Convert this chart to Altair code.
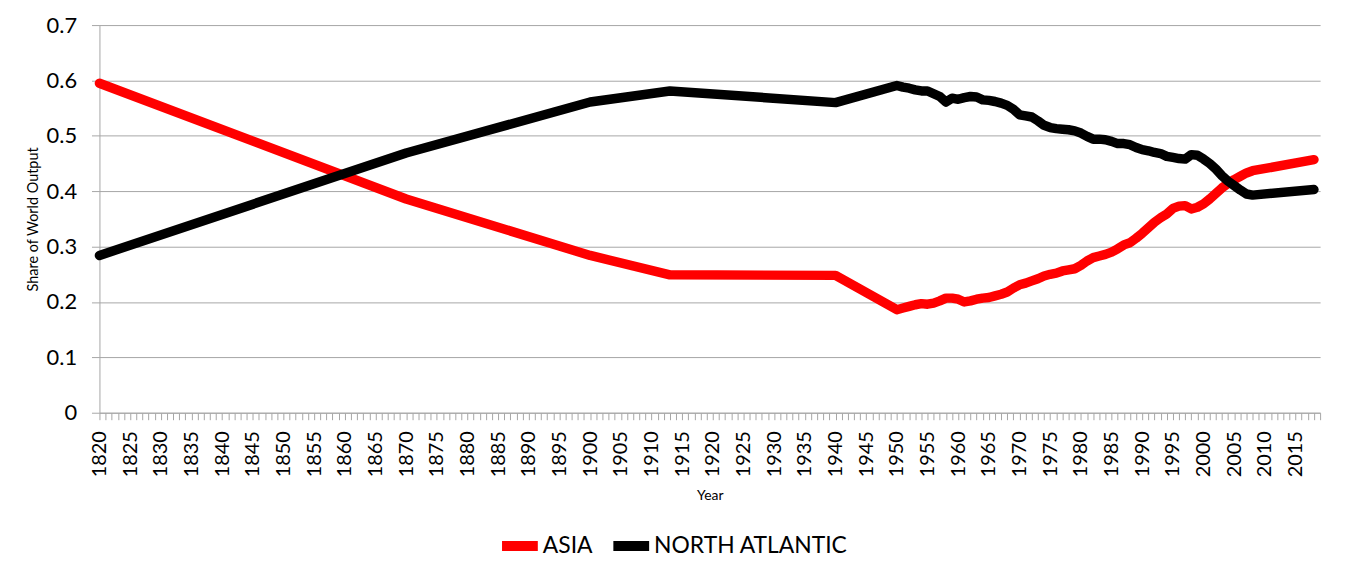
import altair as alt
import pandas as pd

years = [1820, 1870, 1900, 1913, 1940] + list(range(1950, 2009)) + [2018]

asia = [0.595, 0.386, 0.284, 0.249, 0.248,
        0.186, 0.189, 0.192, 0.195, 0.197, 0.196, 0.198, 0.202, 0.207, 0.207,
        0.205, 0.200, 0.202, 0.205, 0.207, 0.208, 0.211, 0.214, 0.218, 0.225,
        0.231, 0.234, 0.238, 0.242, 0.247, 0.250, 0.252, 0.256, 0.258, 0.260,
        0.266, 0.274, 0.280, 0.283, 0.286, 0.290, 0.296, 0.303, 0.307, 0.315,
        0.324, 0.334, 0.344, 0.352, 0.359, 0.369, 0.373, 0.374, 0.368, 0.371,
        0.377, 0.386, 0.396, 0.406, 0.414, 0.421, 0.427, 0.433, 0.437,
        0.457]

north_atlantic = [0.284, 0.469, 0.561, 0.581, 0.560,
                  0.591, 0.588, 0.586, 0.583, 0.581, 0.581, 0.576, 0.571, 0.561, 0.568,
                  0.566, 0.569, 0.571, 0.570, 0.565, 0.564, 0.562, 0.559, 0.555, 0.548,
                  0.538, 0.536, 0.534, 0.527, 0.519, 0.515, 0.513, 0.512, 0.511, 0.509,
                  0.505, 0.499, 0.494, 0.494, 0.493, 0.490, 0.486, 0.486, 0.484, 0.479,
                  0.475, 0.473, 0.470, 0.468, 0.463, 0.461, 0.459, 0.458, 0.466, 0.465,
                  0.458, 0.450, 0.440, 0.428, 0.418, 0.410, 0.402, 0.395, 0.393,
                  0.403]

series_names = ["ASIA", "NORTH ATLANTIC"]
series_colors = ["#FF0000", "#000000"]

x_tick_years = list(range(1820, 2020))
y_ticks = [0, 0.1, 0.2, 0.3, 0.4, 0.5, 0.6, 0.7]

rows = []
for name, vals in zip(series_names, [asia, north_atlantic]):
    for yr, v in zip(years, vals):
        rows.append({"Year": yr, "Share": v, "Region": name})
df = pd.DataFrame(rows)

FONT = "Lato"
GRID = "#a6a6a6"

chart = alt.Chart(df).mark_line(
    strokeWidth=9.5, strokeCap="round", strokeJoin="round"
).encode(
    x=alt.X("Year:Q",
            scale=alt.Scale(domain=[1820, 2019], nice=False, zero=False),
            axis=alt.Axis(
                title="Year", values=x_tick_years, format="d",
                labelExpr="datum.value % 5 === 0 ? datum.label : ''",
                labelAngle=270, labelOverlap=False, labelFontSize=20,
                labelPadding=11, tickSize=7, tickColor=GRID, domainColor=GRID,
                grid=False, titleFontSize=14, titlePadding=12,
                titleFontWeight="normal")),
    y=alt.Y("Share:Q",
            scale=alt.Scale(domain=[0, 0.7], nice=False),
            axis=alt.Axis(
                title="Share of World Output", values=y_ticks, format=".1~f",
                labelFontSize=22, labelPadding=15, tickSize=8, tickColor=GRID,
                domainColor=GRID, grid=True, gridColor=GRID, titleFontSize=14.5,
                titlePadding=6, titleFontWeight="normal")),
    color=alt.Color("Region:N",
                    scale=alt.Scale(domain=series_names, range=series_colors),
                    legend=alt.Legend(
                        title=None, orient="none", direction="horizontal",
                        legendX=400, legendY=501, symbolType="stroke",
                        symbolSize=1296, symbolStrokeWidth=10, labelFontSize=23,
                        labelOffset=0, columnPadding=0, padding=0, labelLimit=0,
                        labelColor="#000000")),
).properties(
    width=1228, height=390,
    autosize=alt.AutoSizeParams(type="none"),
    padding={"left": 92, "top": 15.5, "right": 17, "bottom": 150},
).configure(
    font=FONT,
).configure_axis(
    labelColor="#000000", titleColor="#000000", labelFont=FONT, titleFont=FONT,
).configure_legend(
    labelFont=FONT,
).configure_view(
    stroke=None,
)

chart.save("out.html", embed_options={"renderer": "svg", "actions": False})
